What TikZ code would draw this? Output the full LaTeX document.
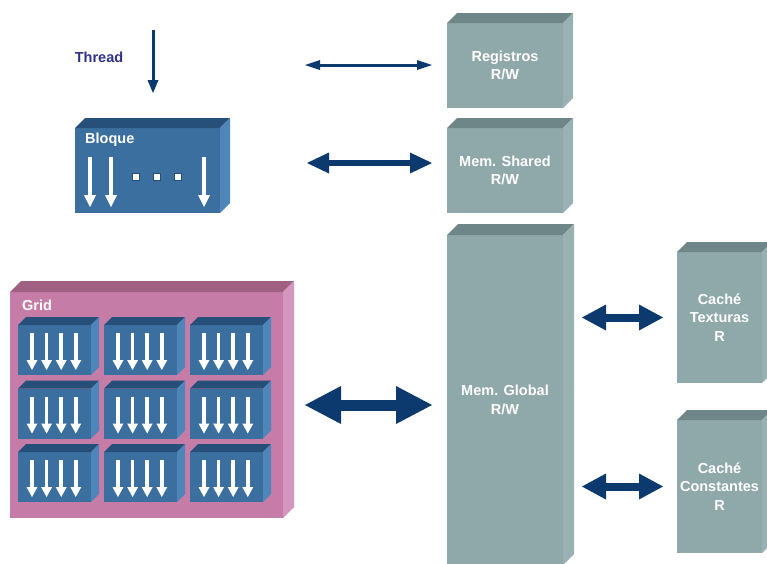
\documentclass[tikz,border=0pt]{standalone}
\usepackage{fontspec}
\setmainfont{Liberation Sans}
\usetikzlibrary{arrows.meta}

\definecolor{navy}{HTML}{0C3A6E}
\definecolor{threadtxt}{HTML}{2F318B}
\definecolor{grayfront}{HTML}{8FA8AA}
\definecolor{graytop}{HTML}{6E8688}
\definecolor{grayside}{HTML}{9AB1B3}
\definecolor{bluefront}{HTML}{3B6F9F}
\definecolor{bluetop}{HTML}{26507A}
\definecolor{blueside}{HTML}{4F86BA}
\definecolor{pinkfront}{HTML}{C57CA7}
\definecolor{pinktop}{HTML}{A06081}
\definecolor{pinkside}{HTML}{D495BE}

\newcommand\boxfont{\fontsize{14.5}{18.5}\selectfont\bfseries}

% top and right faces of a box whose front face is node #1, depth #2
\newcommand\drawcube[4]{%
  \fill[#3] (#1.north west) -- ++(#2,-#2) -- ([shift={(#2,-#2)}]#1.north east) -- (#1.north east) -- cycle;
  \fill[#4] (#1.north east) -- ++(#2,-#2) -- ([shift={(#2,-#2)}]#1.south east) -- (#1.south east) -- cycle;
}

\tikzset{
  face/.style={anchor=north west, inner sep=0pt, outer sep=0pt, text=white,
    font=\boxfont, align=center},
  grayface/.style={face, fill=grayfront},
  blueface/.style={face, fill=bluefront},
  pinkface/.style={face, fill=pinkfront},
  title/.style={anchor=west, inner sep=0pt, text=white, font=\boxfont},
  link/.style={draw=navy, line width=#1},
  linkA/.style={link=3pt, arrows={Triangle[length=15pt,width=10pt,line width=0pt]-Triangle[length=15pt,width=10pt,line width=0pt]}},
  linkB/.style={link=6.5pt, arrows={Triangle[length=22pt,width=21pt,line width=0pt]-Triangle[length=22pt,width=21pt,line width=0pt]}},
  linkC/.style={link=8pt, arrows={Triangle[length=24pt,width=26pt,line width=0pt]-Triangle[length=24pt,width=26pt,line width=0pt]}},
  linkD/.style={link=11pt, arrows={Triangle[length=36pt,width=38pt,line width=0pt]-Triangle[length=36pt,width=38pt,line width=0pt]}},
  threadarrow/.style={draw=navy, line width=3pt, arrows={-Triangle[length=13pt,width=11pt,line width=0pt]}},
  warrow/.style={draw=white, line width=3.5pt, arrows={-Triangle[length=10pt,width=11pt,line width=0pt]}},
  bigwarrow/.style={draw=white, line width=3.5pt, arrows={-Triangle[length=12pt,width=12pt,line width=0pt]}},
  dot/.style={draw=bluetop, fill=white, line width=1pt, minimum size=7pt, inner sep=0pt},
}

\begin{document}
\begin{tikzpicture}[x=1pt, y=-1pt]
  \clip (0,0) rectangle (767,563);
  \fill[white] (0,0) rectangle (767,563);

  % memory boxes
  \node[grayface, minimum width=116pt, minimum height=85pt] (reg) at (447,23) {Registros\\R/W};
  \drawcube{reg}{10}{graytop}{grayside}
  \node[grayface, minimum width=116pt, minimum height=85pt] (shared) at (447,128) {Mem. Shared\\R/W};
  \drawcube{shared}{10}{graytop}{grayside}
  \node[grayface, minimum width=116pt, minimum height=330pt] (global) at (447,235) {Mem. Global\\R/W};
  \drawcube{global}{11}{graytop}{grayside}
  \node[grayface, minimum width=85pt, minimum height=131pt] (tex) at (677,252) {Caché\\Texturas\\R};
  \drawcube{tex}{10}{graytop}{grayside}
  \node[grayface, minimum width=85pt, minimum height=133pt] (const) at (677,420) {Caché\\Constantes\\R};
  \drawcube{const}{10}{graytop}{grayside}

  % thread
  \node[anchor=center, inner sep=0pt, text=threadtxt, font=\boxfont] (thread) at (99,57) {Thread};
  \coordinate (thtop) at (153,30);

  % block
  \node[blueface, minimum width=145pt, minimum height=85pt] (bloque) at (75,128) {};
  \drawcube{bloque}{10}{bluetop}{blueside}
  \node[title] (bloquet) at (85,140) {Bloque};
  \draw[bigwarrow] ([xshift=15pt,yshift=-29pt]bloque.north west) -- ++(0,50);
  \draw[bigwarrow] ([xshift=36pt,yshift=-29pt]bloque.north west) -- ++(0,50);
  \draw[bigwarrow] ([xshift=129pt,yshift=-29pt]bloque.north west) -- ++(0,50);
  \node[dot] (d1) at (136,177) {};
  \node[dot] (d2) at (157,177) {};
  \node[dot] (d3) at (178,177) {};

  \draw[threadarrow, shorten >=35pt] (thtop) -- (thtop |- bloque.north);

  % grid of blocks
  \node[pinkface, minimum width=273pt, minimum height=226pt] (grid) at (10,292) {};
  \drawcube{grid}{11}{pinktop}{pinkside}
  \node[title] (gridt) at (22,305) {Grid};
  \foreach \i in {0,1,2} {
    \foreach \j in {0,1,2} {
      \node[blueface, minimum width=73pt, minimum height=50pt] (b\i\j) at ({18+86*\i},{325+63.5*\j}) {};
      \drawcube{b\i\j}{8}{bluetop}{blueside}
      \foreach \k in {0,...,3} {
        \draw[warrow] ([xshift={14+14.6*\k}, yshift=-8pt]b\i\j.north west) -- ++(0,37);
      }
    }
  }

  % links between levels
  \coordinate (ra) at (305,65);
  \coordinate (sa) at (307,163);
  \draw[linkA, shorten >=15pt] (ra) -- (ra -| reg.west);
  \draw[linkB, shorten >=15pt] (sa) -- (sa -| shared.west);
  \draw[linkD, shorten <=22pt, shorten >=15pt] (grid.east) -- (grid.east -| global.west);
  \draw[linkC, shorten <=19pt, shorten >=14pt] (global.east |- tex.west) -- (tex.west);
  \draw[linkC, shorten <=19pt, shorten >=14pt] (global.east |- const.west) -- (const.west);
\end{tikzpicture}
\end{document}
